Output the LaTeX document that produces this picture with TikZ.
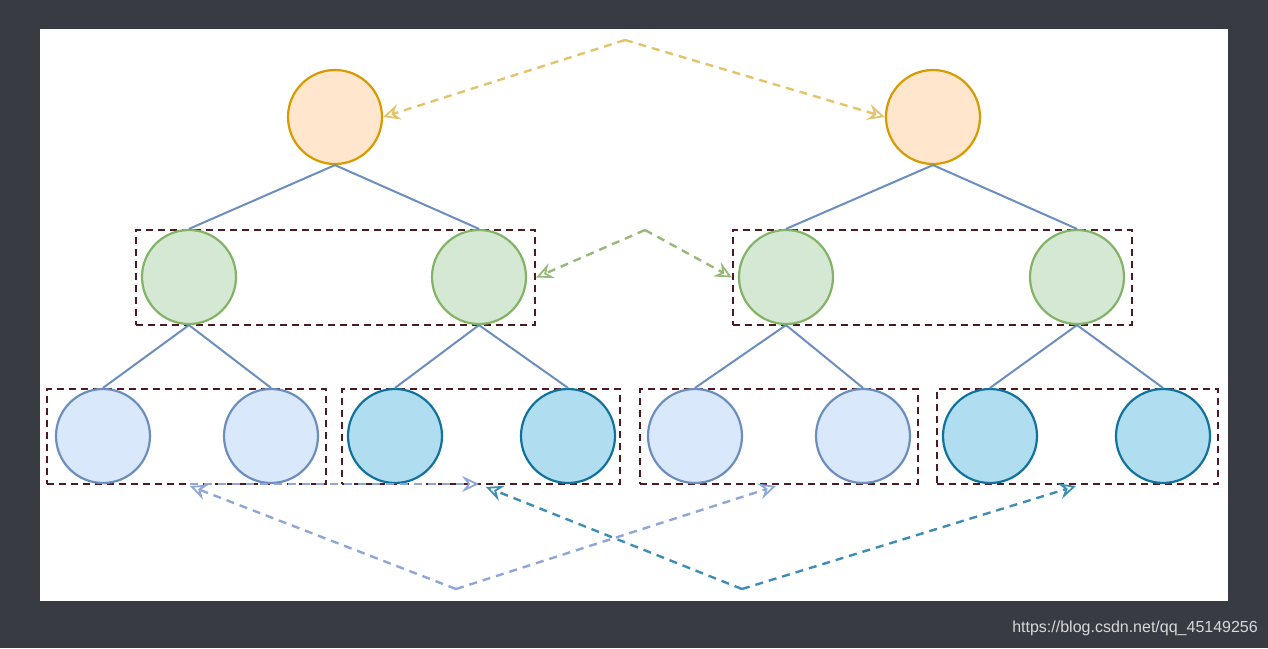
\documentclass[tikz,border=0pt]{standalone}
\usepackage{fontspec}
\setsansfont{Liberation Sans}
\usetikzlibrary{arrows.meta}
\definecolor{bgdark}{HTML}{383B42}
\definecolor{orfill}{HTML}{FFE6CC}
\definecolor{ordraw}{HTML}{D79B00}
\definecolor{grfill}{HTML}{D5E8D4}
\definecolor{grdraw}{HTML}{82B366}
\definecolor{lbfill}{HTML}{DAE8FC}
\definecolor{lbdraw}{HTML}{6C8EBF}
\definecolor{dbfill}{HTML}{B1DDF0}
\definecolor{dbdraw}{HTML}{10739E}
\definecolor{boxcol}{HTML}{4D1A22}
\definecolor{orarrow}{HTML}{E3C46A}
\definecolor{grarrow}{HTML}{97BA78}
\definecolor{lbarrow}{HTML}{8FA6D6}
\definecolor{dbarrow}{HTML}{3D8DB5}
\definecolor{wmark}{HTML}{D8D8D8}
\tikzset{
  circ/.style={circle, minimum size=94pt, inner sep=0pt, line width=2.2pt},
  orc/.style={circ, draw=ordraw, fill=orfill},
  grc/.style={circ, draw=grdraw, fill=grfill},
  lbc/.style={circ, draw=lbdraw, fill=lbfill},
  dbc/.style={circ, draw=dbdraw, fill=dbfill},
  grp/.style={draw=boxcol, dash pattern=on 7pt off 5pt, line width=2.2pt, inner sep=0pt},
  edge/.style={draw=lbdraw, line width=2pt},
  darr/.style={dash pattern=on 8pt off 6pt, line width=2.4pt,
    -{Stealth[open, length=17pt, width=16pt, inset=6pt, line width=1.8pt]}},
}
\begin{document}
\begin{tikzpicture}[x=1pt, y=-1pt]
\fill[bgdark] (0,0) rectangle (1268,648);
\useasboundingbox (0,0) rectangle (1268,648);
\fill[white] (40,29) rectangle (1228,601);

% group boxes
\node[grp, minimum width=399pt, minimum height=95pt] (gb1) at (335.5,277.5) {};
\node[grp, minimum width=399pt, minimum height=95pt] (gb2) at (932.5,277.5) {};
\node[grp, minimum width=279pt, minimum height=95pt] (bb1) at (186.5,436.5) {};
\node[grp, minimum width=278pt, minimum height=95pt] (bb2) at (481,436.5) {};
\node[grp, minimum width=278pt, minimum height=95pt] (bb3) at (779,436.5) {};
\node[grp, minimum width=281pt, minimum height=95pt] (bb4) at (1077.5,436.5) {};

\coordinate (o1p) at (335,117);
\coordinate (o2p) at (933,117);
\coordinate (g1p) at (189,277);
\coordinate (g2p) at (479,277);
\coordinate (g3p) at (786,277);
\coordinate (g4p) at (1077,277);

% circles
\node[orc] (o1) at (o1p) {};
\node[orc] (o2) at (o2p) {};
\node[grc] (g1) at (g1p) {};
\node[grc] (g2) at (g2p) {};
\node[grc] (g3) at (g3p) {};
\node[grc] (g4) at (g4p) {};
\node[lbc] (l1) at (103,436) {};
\node[lbc] (l2) at (271,436) {};
\node[dbc] (d1) at (395,436) {};
\node[dbc] (d2) at (568,436) {};
\node[lbc] (l3) at (695,436) {};
\node[lbc] (l4) at (863,436) {};
\node[dbc] (d3) at (990,436) {};
\node[dbc] (d4) at (1163,436) {};

% tree edges
\draw[edge] (o1.south) -- (g1.north);
\draw[edge] (o1.south) -- (g2.north);
\draw[edge] (o2.south) -- (g3.north);
\draw[edge] (o2.south) -- (g4.north);
\draw[edge] (g1.south) -- (l1.north);
\draw[edge] (g1.south) -- (l2.north);
\draw[edge] (g2.south) -- (d1.north);
\draw[edge] (g2.south) -- (d2.north);
\draw[edge] (g3.south) -- (l3.north);
\draw[edge] (g3.south) -- (l4.north);
\draw[edge] (g4.south) -- (d3.north);
\draw[edge] (g4.south) -- (d4.north);

% dashed arrows
\coordinate (oa) at (625,40);
\draw[darr, orarrow] (oa) -- (o1.east);
\draw[darr, orarrow] (oa) -- (o2.west);

\coordinate (ga) at (645,230);
\draw[darr, grarrow] (ga) -- (gb1.east);
\draw[darr, grarrow] (ga) -- (gb2.west);

\coordinate (la) at (456,589);
\coordinate (lt1) at (190,486);
\coordinate (lt2) at (776,486);
\coordinate (lh1) at (190,484);
\coordinate (lh2) at (479,484);
\draw[darr, lbarrow] (la) -- (lt1);
\draw[darr, lbarrow] (la) -- (lt2);
\draw[darr, lbarrow] (lh1) -- (lh2);

\coordinate (da) at (742,589);
\coordinate (dt1) at (486,487);
\coordinate (dt2) at (1076,486);
\draw[darr, dbarrow] (da) -- (dt1);
\draw[darr, dbarrow] (da) -- (dt2);

% watermark
\node[anchor=east, text=wmark, font=\sffamily\fontsize{16}{19}\selectfont, inner sep=0pt] (wm) at (1258,628) {https://blog.csdn.net/qq\_45149256};
\end{tikzpicture}
\end{document}
